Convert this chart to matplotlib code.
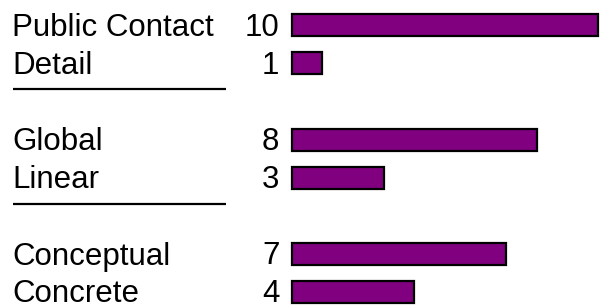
import matplotlib
matplotlib.use("Agg")
from matplotlib import pyplot as plt
from matplotlib.transforms import blended_transform_factory

# data
labels = ['Public Contact', 'Detail', 'Global', 'Linear', 'Conceptual', 'Concrete']
values = [10, 1, 8, 3, 7, 4]
groups = [0, 0, 1, 1, 2, 2]

# layout (pixel units, y grows downward)
W, H = 600, 305
zero_x = 291.7
unit = 30.65
first_y = 25
row_step = 38
group_step = 114.5

ys = []
for k, g in enumerate(groups):
    i = groups[:k].count(g)
    ys.append(first_y + g * group_step + i * row_step)

fig = plt.figure(figsize=(W / 100, H / 100), dpi=100)
ax = fig.add_axes([0, 0, 1, 1])
ax.set_xlim(-zero_x / unit, (W - zero_x) / unit)
ax.set_ylim(H, 0)
ax.axis('off')

ax.barh(ys, values, height=22, left=0, color='#800080',
        edgecolor='black', linewidth=1.6)

font = dict(family='Liberation Sans', fontsize=22.5)
tr = blended_transform_factory(ax.transAxes, ax.transData)
for y, lab, v in zip(ys, labels, values):
    ax.text(12 / W, y + 10.5, lab, transform=tr, ha='left', va='baseline', **font)
    ax.text(-0.40, y + 10.5, str(v), ha='right', va='baseline', **font)

# separators between groups
for g in range(1, max(groups) + 1):
    y_sep = first_y + g * group_step - 50.5
    ax.plot([13 / W, 226 / W], [y_sep, y_sep], transform=tr,
            color='black', linewidth=1.6, solid_capstyle='butt')

fig.savefig('out.png', dpi=100)
